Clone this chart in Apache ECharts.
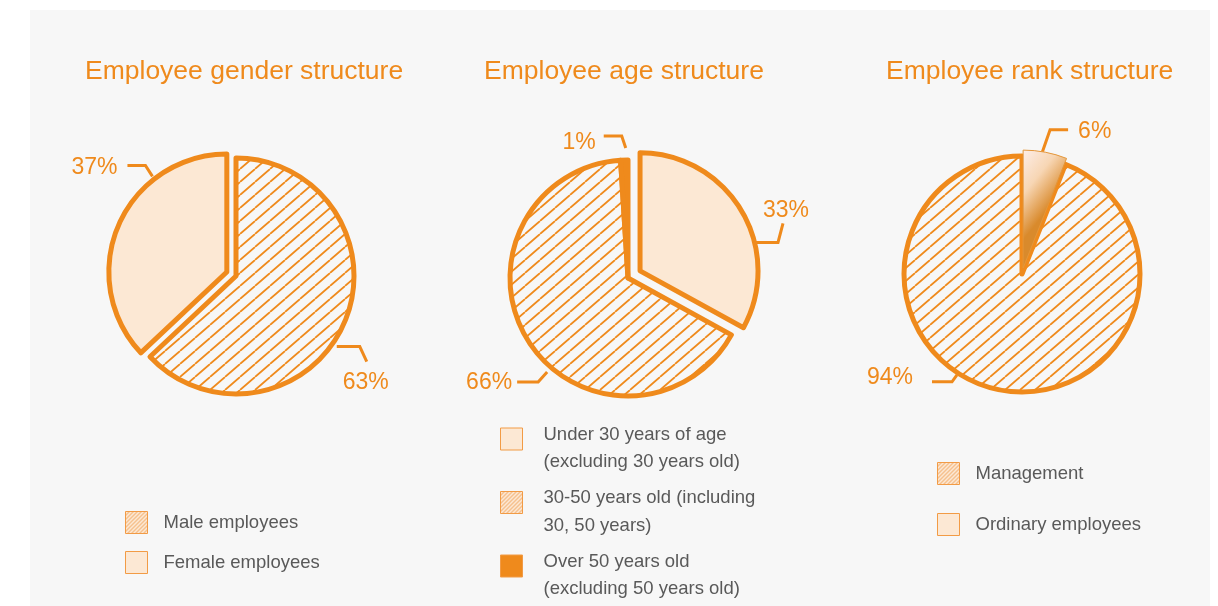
<!DOCTYPE html>
<html><head><meta charset="utf-8">
<script src="https://cdn.jsdelivr.net/npm/echarts@6/dist/echarts.min.js"></script>
<style>
html,body{margin:0;padding:0;background:#ffffff;width:1218px;height:606px;overflow:hidden}
#panel{position:absolute;left:30px;top:10px;width:1180px;height:596px;background:#f7f7f7}
#chart{position:absolute;left:0;top:0;width:1218px;height:606px}
</style></head><body>
<div id="panel"></div><div id="chart"></div>
<script>
// ---------- data ----------
const titles = ['Employee gender structure', 'Employee age structure', 'Employee rank structure'];
const genderNames = ['Male employees', 'Female employees'];
const genderValues = [63, 37];
const ageNames = ['Under 30 years of age\n(excluding 30 years old)', '30-50 years old (including\n30, 50 years)', 'Over 50 years old\n(excluding 50 years old)'];
const ageValues = [33, 66, 1];
const rankNames = ['Management', 'Ordinary employees'];
const rankValues = [6, 94];

// ---------- styles ----------
const ORANGE = '#ef8a1c';
const LIGHT = '#fce8d4';
const BG = '#f7f7f7';
const NONE = 'rgba(0,0,0,0)';
const FONT = '"Liberation Sans", Arial, Helvetica, sans-serif';
const LEGEND_TEXT = '#595959';

function hatch(w, h, lw, bg, fg) {
  const c = document.createElement('canvas');
  c.width = w; c.height = h;
  const g = c.getContext('2d');
  g.fillStyle = bg; g.fillRect(0, 0, w, h);
  g.strokeStyle = fg; g.lineWidth = lw; g.lineCap = 'butt';
  g.beginPath();
  for (let k = -1; k <= 1; k++) { g.moveTo(k * w, h); g.lineTo(k * w + w, 0); }
  g.stroke();
  return { image: c, repeat: 'repeat' };
}
const bigHatch = hatch(15, 13, 1.8, BG, ORANGE);
const smallHatch = hatch(4, 4, 1, LIGHT, '#f09a48');
const gradient6 = { type: 'linear', x: 0, y: 0, x2: 1, y2: 0.3,
  colorStops: [{ offset: 0, color: '#fdeee9' }, { offset: 0.5, color: '#f7d6b4' }, { offset: 1, color: '#d98a2c' }] };

const R = 118;
const BORDER = 5;
const centers = [[236, 276], [628, 278], [1022, 274]];
const explodedIndex = [1, 0, 0];
const explodeDist = [10, 14, 6];
const sliceStyles = [
  [{ color: bigHatch }, { color: LIGHT }],
  [{ color: LIGHT }, { color: bigHatch }, { color: ORANGE }],
  [{ color: gradient6, borderWidth: 1, borderColor: '#e3963a' }, { color: bigHatch }]
];
const legendIconStyles = [
  [{ color: smallHatch }, { color: LIGHT }],
  [{ color: LIGHT }, { color: smallHatch }, { color: ORANGE }],
  [{ color: smallHatch }, { color: LIGHT }]
];
// label leader geometry: anchor angle (deg clockwise from top), anchor radius, two segments, text offset, align
const labelGeo = [
  [ { a: 125, r: 123, d1: [23, 0], d2: [7, 15], t: [-1, 21], al: 'center' },
    { a: 320, r: 130, d1: [-7, -11], d2: [-18, 0], t: [-10, 2], al: 'right' } ],
  [ { a: 74, r: 129, d1: [26, 0], d2: [5, -19], t: [3, -13], al: 'center' },
    { a: 220.7, r: 124, d1: [-9, 10], d2: [-21, 0], t: [-5, 1], al: 'right' },
    { a: 359, r: 130, d1: [-4, -12], d2: [-18, 0], t: [-8, 7], al: 'right' } ],
  [ { a: 9.4, r: 123, d1: [8, -23], d2: [18, 0], t: [10, 2], al: 'left' },
    { a: 212.8, r: 120, d1: [-5, 7], d2: [-20, 0], t: [-19, -4], al: 'right' } ]
];

const common = {
  type: 'pie', radius: R, startAngle: 90, clockwise: true, animation: false,
  avoidLabelOverlap: false, emphasis: { disabled: true }, selectedMode: false
};

function pieSeries(idx, names, values) {
  const c = centers[idx];
  const geo = labelGeo[idx];
  const e = explodedIndex[idx];
  return Object.assign({}, common, {
    name: titles[idx],
    center: c,
    itemStyle: { borderColor: ORANGE, borderWidth: BORDER, borderJoin: 'round' },
    label: { show: true, formatter: '{c}%', color: ORANGE, fontSize: 23, fontFamily: FONT },
    labelLine: { show: true, smooth: false, lineStyle: { color: ORANGE, width: 3 } },
    labelLayout: function (p) {
      const g = geo[p.dataIndex];
      const a = g.a * Math.PI / 180;
      const ax = c[0] + g.r * Math.sin(a), ay = c[1] - g.r * Math.cos(a);
      const p1 = [ax + g.d1[0], ay + g.d1[1]];
      const p2 = [p1[0] + g.d2[0], p1[1] + g.d2[1]];
      return { x: p2[0] + g.t[0], y: p2[1] + g.t[1], align: g.al, verticalAlign: 'middle',
        labelLinePoints: [[ax, ay], p1, p2] };
    },
    data: names.map((n, i) => ({ name: n, value: values[i],
      itemStyle: i === e ? { color: NONE, borderWidth: 0 } : sliceStyles[idx][i] }))
  });
}

// the pulled-out slice, drawn by the same pie layout at a shifted centre
function explodedSeries(idx, names, values) {
  const e = explodedIndex[idx];
  const total = values.reduce((s, v) => s + v, 0);
  const before = values.slice(0, e).reduce((s, v) => s + v, 0);
  const mid = (before + values[e] / 2) / total * 2 * Math.PI;
  const c = [centers[idx][0] + explodeDist[idx] * Math.sin(mid), centers[idx][1] - explodeDist[idx] * Math.cos(mid)];
  return Object.assign({}, common, {
    name: titles[idx] + ' (pulled)',
    center: c, silent: true,
    itemStyle: { borderColor: ORANGE, borderWidth: BORDER, borderJoin: 'round' },
    label: { show: false }, labelLine: { show: false },
    data: names.map((n, i) => ({ name: n, value: values[i],
      itemStyle: i === e ? sliceStyles[idx][i] : { color: NONE, borderWidth: 0 } }))
  });
}

const legendBase = {
  orient: 'vertical', padding: 0, icon: 'rect', itemWidth: 22, itemHeight: 22,
  selectedMode: false, height: 260,
  itemStyle: { borderWidth: 1, borderColor: '#f29b45' },
  textStyle: { color: LEGEND_TEXT, fontSize: 18.5, fontFamily: FONT, padding: [0, 0, 0, 11] }
};
function legendData(names, idx) {
  return names.map((n, i) => ({ name: n, itemStyle: legendIconStyles[idx][i] }));
}

const option = {
  backgroundColor: 'transparent',
  animation: false,
  title: [
    { text: titles[0], left: 85, top: 58 },
    { text: titles[1], left: 484, top: 58 },
    { text: titles[2], left: 886, top: 58 }
  ].map(t => Object.assign(t, { padding: 0, textStyle: { color: ORANGE, fontSize: 26.5, fontWeight: 'normal', fontFamily: FONT } })),
  legend: [
    Object.assign({}, legendBase, { left: 125, top: 511, itemGap: 17, data: legendData(genderNames, 0) }),
    Object.assign({}, legendBase, { left: 500, top: 402, itemGap: -10.5,
      formatter: n => '{s| }\n' + n,
      textStyle: { color: LEGEND_TEXT, fontSize: 18.5, fontFamily: FONT, lineHeight: 27.5, padding: [0, 0, 0, 16],
        rich: { s: { fontSize: 10, lineHeight: 19 } } },
      data: legendData(ageNames, 1) }),
    Object.assign({}, legendBase, { left: 937, top: 462, itemGap: 28, data: legendData(rankNames, 2) })
  ],
  series: [
    pieSeries(0, genderNames, genderValues),
    pieSeries(1, ageNames, ageValues),
    pieSeries(2, rankNames, rankValues),
    explodedSeries(0, genderNames, genderValues),
    explodedSeries(1, ageNames, ageValues),
    explodedSeries(2, rankNames, rankValues)
  ]
};

const chart = echarts.init(document.getElementById('chart'), null, { renderer: 'canvas' });
chart.setOption(option);
</script>
</body></html>
